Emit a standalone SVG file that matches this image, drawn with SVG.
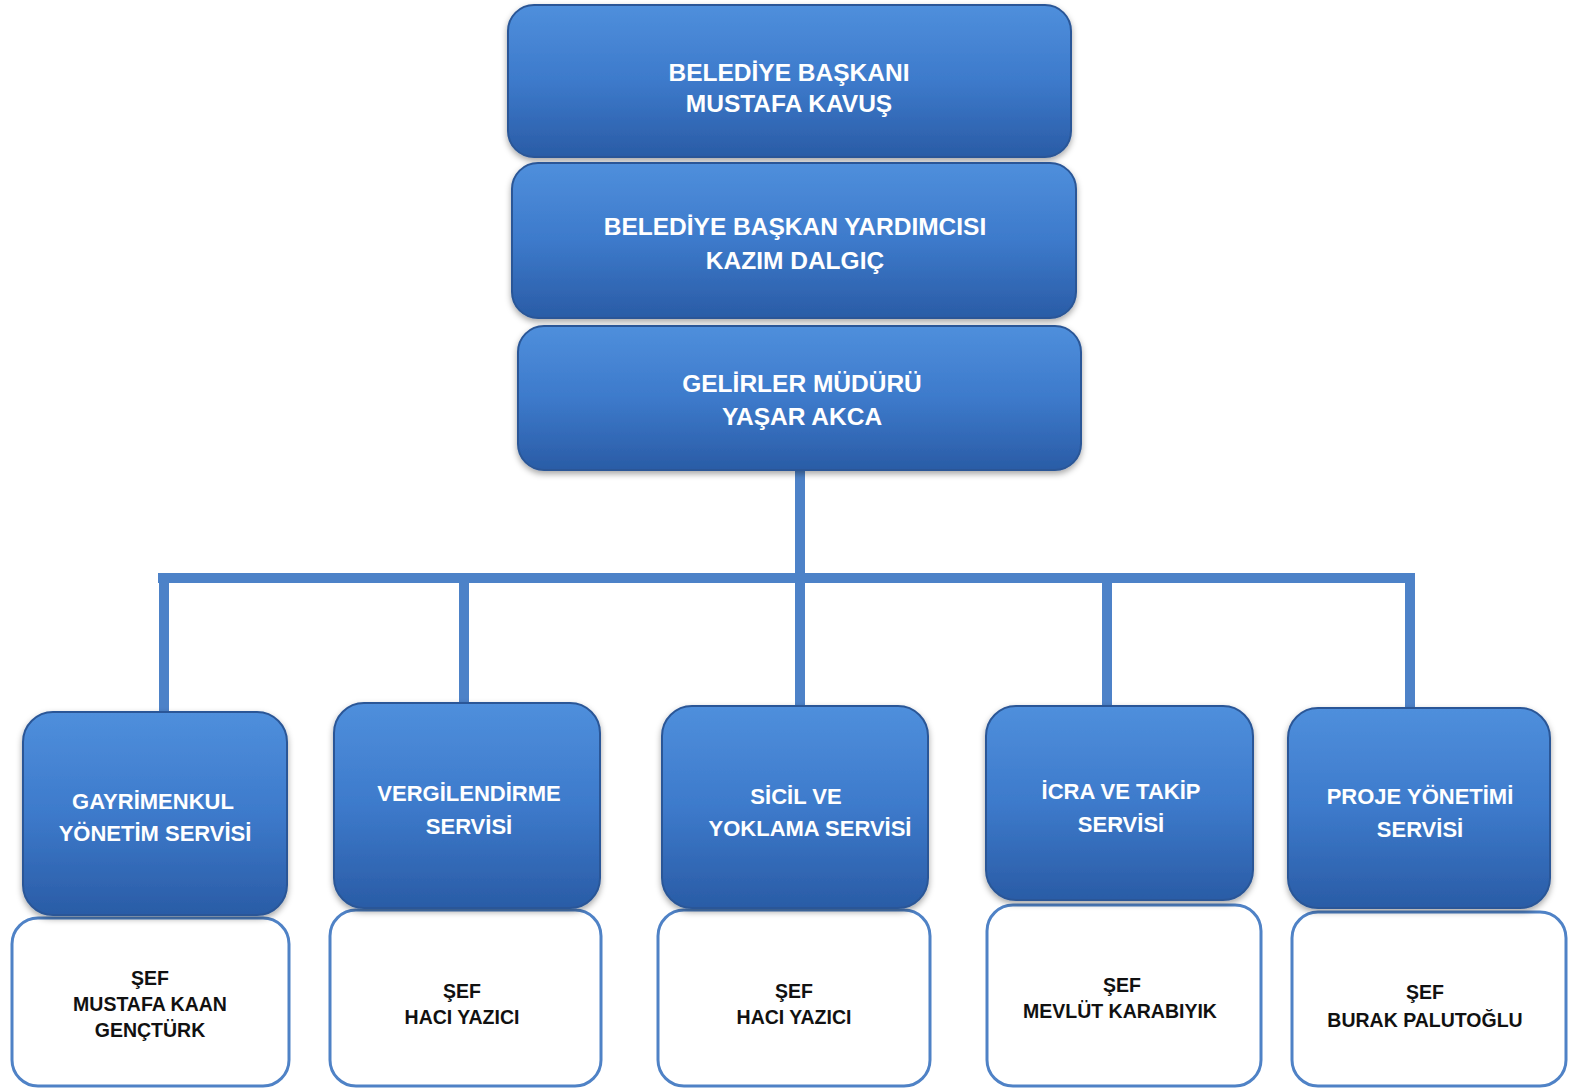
<svg xmlns="http://www.w3.org/2000/svg" width="1569" height="1090" viewBox="0 0 1569 1090">
<defs>
<linearGradient id="gBlue" x1="0" y1="0" x2="0" y2="1">
<stop offset="0" stop-color="#4f8fdc"/>
<stop offset="0.5" stop-color="#3d7acb"/>
<stop offset="1" stop-color="#2a5ca6"/>
</linearGradient>
<filter id="sh" x="-10%" y="-10%" width="120%" height="130%">
<feDropShadow dx="0" dy="3" stdDeviation="3" flood-color="#000" flood-opacity="0.35"/>
</filter>
<style>
.blue{fill:url(#gBlue);stroke:#2b5797;stroke-width:2;filter:url(#sh)}
.white{fill:#fff;stroke:#4f82c6;stroke-width:3}
.tw{font-family:"Liberation Sans",Arial,sans-serif;font-weight:bold;fill:#fff;text-anchor:middle}
.tb{font-family:"Liberation Sans",Arial,sans-serif;font-weight:bold;fill:#111;text-anchor:middle;font-size:19.5px}
.con{stroke:#4d82c8;stroke-width:10;fill:none}
</style>
</defs>
<rect width="1569" height="1090" fill="#fff"/>
<g id="connectors">
<line class="con" x1="800" y1="468" x2="800" y2="582"/>
<line class="con" x1="158" y1="578" x2="1415" y2="578"/>
<line class="con" x1="164" y1="574" x2="164" y2="716"/>
<line class="con" x1="464" y1="574" x2="464" y2="706"/>
<line class="con" x1="800" y1="574" x2="800" y2="708"/>
<line class="con" x1="1107" y1="574" x2="1107" y2="708"/>
<line class="con" x1="1410" y1="574" x2="1410" y2="712"/>
</g>
<g id="n-baskan">
<rect class="blue" x="508" y="5" width="563" height="152" rx="26"/>
<text class="tw" font-size="24.5" x="789" y="81">BELEDİYE BAŞKANI</text>
<text class="tw" font-size="24.5" x="789" y="112">MUSTAFA KAVUŞ</text>
</g>
<g id="n-yardimci">
<rect class="blue" x="512" y="163" width="564" height="155" rx="26"/>
<text class="tw" font-size="24.5" x="795" y="235">BELEDİYE BAŞKAN YARDIMCISI</text>
<text class="tw" font-size="24.5" x="795" y="269">KAZIM DALGIÇ</text>
</g>
<g id="n-mudur">
<rect class="blue" x="518" y="326" width="563" height="144" rx="26"/>
<text class="tw" font-size="24.5" x="802" y="392">GELİRLER MÜDÜRÜ</text>
<text class="tw" font-size="24.5" x="802" y="425">YAŞAR AKCA</text>
</g>
<g id="n-gayrimenkul">
<rect class="white" x="12" y="918" width="277" height="168" rx="26"/>
<rect class="blue" x="23" y="712" width="264" height="203" rx="30"/>
<text class="tw" font-size="22" x="153" y="809">GAYRİMENKUL</text>
<text class="tw" font-size="22" x="155" y="841">YÖNETİM SERVİSİ</text>
<text class="tb" x="150" y="985">ŞEF</text>
<text class="tb" x="150" y="1011">MUSTAFA KAAN</text>
<text class="tb" x="150" y="1037">GENÇTÜRK</text>
</g>
<g id="n-vergi">
<rect class="white" x="330" y="910" width="271" height="176" rx="26"/>
<rect class="blue" x="334" y="703" width="266" height="205" rx="30"/>
<text class="tw" font-size="22" x="469" y="801">VERGİLENDİRME</text>
<text class="tw" font-size="22" x="469" y="834">SERVİSİ</text>
<text class="tb" x="462" y="998">ŞEF</text>
<text class="tb" x="462" y="1024">HACI YAZICI</text>
</g>
<g id="n-sicil">
<rect class="white" x="658" y="910" width="272" height="176" rx="26"/>
<rect class="blue" x="662" y="706" width="266" height="202" rx="30"/>
<text class="tw" font-size="22" x="796" y="804">SİCİL VE</text>
<text class="tw" font-size="22" x="810" y="836">YOKLAMA SERVİSİ</text>
<text class="tb" x="794" y="998">ŞEF</text>
<text class="tb" x="794" y="1024">HACI YAZICI</text>
</g>
<g id="n-icra">
<rect class="white" x="987" y="905" width="274" height="181" rx="26"/>
<rect class="blue" x="986" y="706" width="267" height="194" rx="30"/>
<text class="tw" font-size="22" x="1121" y="799">İCRA VE TAKİP</text>
<text class="tw" font-size="22" x="1121" y="832">SERVİSİ</text>
<text class="tb" x="1122" y="992">ŞEF</text>
<text class="tb" x="1120" y="1018">MEVLÜT KARABIYIK</text>
</g>
<g id="n-proje">
<rect class="white" x="1292" y="912" width="274" height="174" rx="26"/>
<rect class="blue" x="1288" y="708" width="262" height="200" rx="30"/>
<text class="tw" font-size="22" x="1420" y="804">PROJE YÖNETİMİ</text>
<text class="tw" font-size="22" x="1420" y="837">SERVİSİ</text>
<text class="tb" x="1425" y="999">ŞEF</text>
<text class="tb" x="1425" y="1027">BURAK PALUTOĞLU</text>
</g>
</svg>
